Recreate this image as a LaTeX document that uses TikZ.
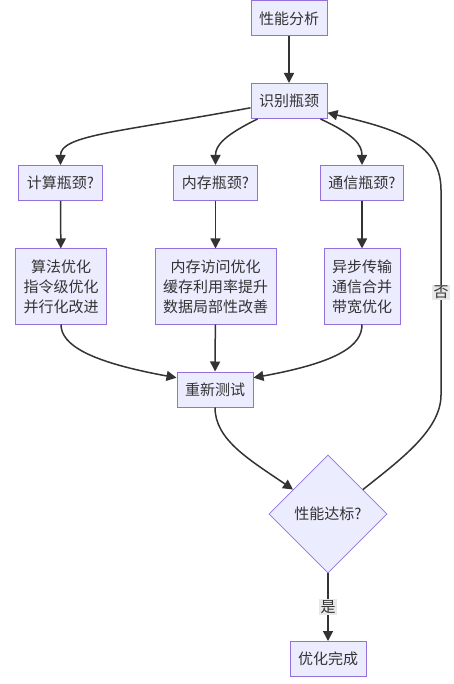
\documentclass[tikz,border=0pt]{standalone}
\usepackage{fontspec}
\setmainfont{Noto Sans CJK SC}
\usetikzlibrary{arrows.meta,shapes.geometric}
\definecolor{boxfill}{HTML}{ECECFF}
\definecolor{boxline}{HTML}{9370DB}
\definecolor{edgecol}{HTML}{333333}
\definecolor{lblfill}{HTML}{E8E8E8}

\begin{document}
\begin{tikzpicture}[x=1pt,y=-1pt,>={Triangle[length=10pt,width=10pt]},
  box/.style={draw=boxline,line width=1pt,fill=boxfill,text=edgecol,inner xsep=8pt,
    minimum height=35pt,font=\fontsize{15}{20}\selectfont,align=center},
  tallbox/.style={box,minimum height=75pt},
  decide/.style={diamond,draw=boxline,line width=.8pt,fill=boxfill,text=edgecol,
    minimum width=118pt,minimum height=118pt,inner sep=0pt,font=\fontsize{15}{20}\selectfont},
  link/.style={draw=edgecol,line width=1.5pt,->},
  lbl/.style={fill=lblfill,text=edgecol,inner sep=1.5pt,font=\fontsize{15}{18}\selectfont}]
\useasboundingbox (0,0) rectangle (453,684);
% nodes
\node[box] (ana) at (289,18.5) {性能分析};
\node[box] (idb) at (289,101) {识别瓶颈};
\node[box] (cpu) at (60.5,183) {计算瓶颈?};
\node[box] (mem) at (215.5,183) {内存瓶颈?};
\node[box] (com) at (362,183) {通信瓶颈?};
\node[tallbox] (cpuopt) at (61,286.5) {算法优化\\指令级优化\\并行化改进};
\node[tallbox] (memopt) at (215.5,286.5) {内存访问优化\\缓存利用率提升\\数据局部性改善};
\node[tallbox] (comopt) at (362,286.5) {异步传输\\通信合并\\带宽优化};
\node[box] (retest) at (215,389.5) {重新测试};
\node[decide] (perf) at (328,514) {性能达标?};
\node[box] (done) at (328,659) {优化完成};
% edges
\draw[link] (ana) -- (idb);
\draw[link] (idb.190) .. controls (120,132) and (60.5,135) .. (cpu.north);
\draw[link] ([xshift=7pt]idb.south west) .. controls (225,135) and (215.5,145) .. (mem.north);
\draw[link] ([xshift=-7pt]idb.south east) .. controls (355,135) and (362,145) .. (com.north);
\draw[link] (cpu) -- (cpuopt);
\draw[link] (mem) -- (memopt);
\draw[link] (com) -- (comopt);
\draw[link] (cpuopt.south) .. controls (61,345) and (90,362) .. (retest.163);
\draw[link] (memopt) -- (retest);
\draw[link] (comopt.south) .. controls (362,345) and (340,362) .. (retest.17);
\draw[link] (retest.south) .. controls (215,440) and (250,460) .. (perf.145);
\draw[link] (perf) -- node[lbl] {是} (done);
\draw[link] (perf.35) .. controls (400,460) and (441,430) .. (441,395)
  -- node[lbl] {否} (441,190) .. controls (441,140) and (390,128) .. (idb.343);
\end{tikzpicture}
\end{document}
